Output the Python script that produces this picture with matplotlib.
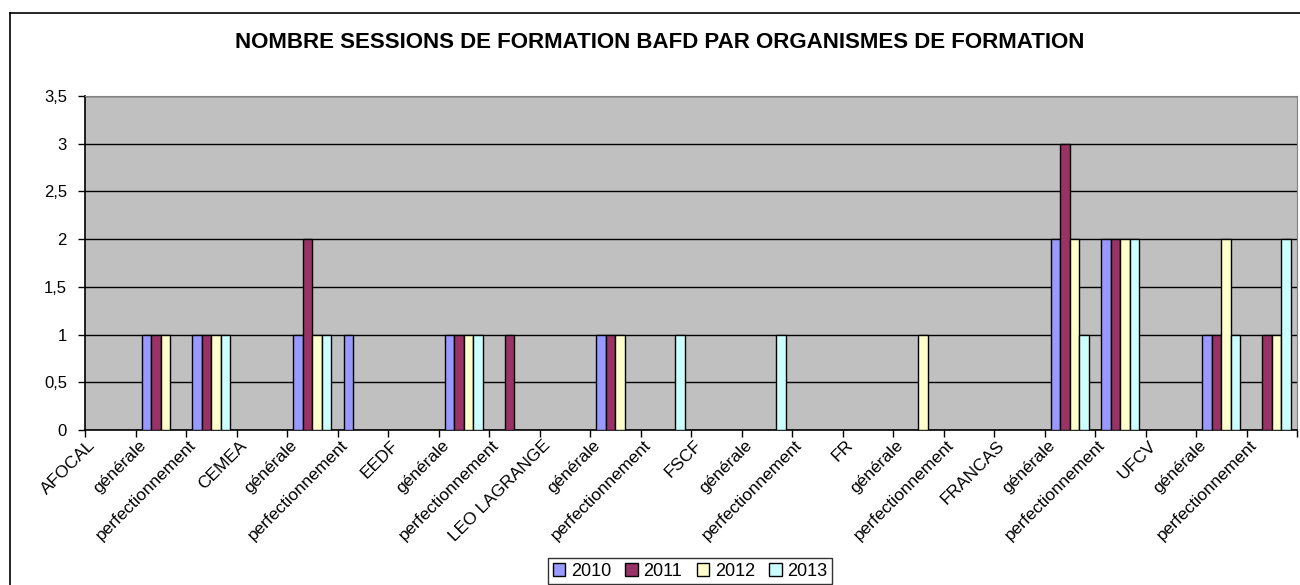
import numpy as np
import matplotlib
matplotlib.use("Agg")
import matplotlib.pyplot as plt
from matplotlib.lines import Line2D
from matplotlib.transforms import ScaledTranslation

plt.rcParams['font.family'] = ['Liberation Sans', 'DejaVu Sans']

labels = ["AFOCAL", "générale", "perfectionnement",
          "CEMEA", "générale", "perfectionnement",
          "EEDF", "générale", "perfectionnement",
          "LEO LAGRANGE", "générale", "perfectionnement",
          "FSCF", "générale", "perfectionnement",
          "FR", "générale", "perfectionnement",
          "FRANCAS", "générale", "perfectionnement",
          "UFCV", "générale", "perfectionnement"]

annees = ["2010", "2011", "2012", "2013"]
v2010 = [0, 1, 1, 0, 1, 1, 0, 1, 0, 0, 1, 0, 0, 0, 0, 0, 0, 0, 0, 2, 2, 0, 1, 0]
v2011 = [0, 1, 1, 0, 2, 0, 0, 1, 1, 0, 1, 0, 0, 0, 0, 0, 0, 0, 0, 3, 2, 0, 1, 1]
v2012 = [0, 1, 1, 0, 1, 0, 0, 1, 0, 0, 1, 0, 0, 0, 0, 0, 1, 0, 0, 2, 2, 0, 2, 1]
v2013 = [0, 0, 1, 0, 1, 0, 0, 1, 0, 0, 0, 1, 0, 1, 0, 0, 0, 0, 0, 1, 2, 0, 1, 2]
couleurs = ["#9999FF", "#993366", "#FFFFCC", "#CCFFFF"]

fig = plt.figure(figsize=(13, 5.85), dpi=100)
ax = fig.add_axes([85/1300, 1-430/585, (1297-85)/1300, (430-96)/585])
ax.set_facecolor("#C0C0C0")

n = len(labels)
w = 0.19
for k, serie in enumerate([v2010, v2011, v2012, v2013]):
    serie = np.array(serie, dtype=float)
    idx = np.nonzero(serie)[0]
    ax.bar(idx + 0.5 + (k - 1.5) * w, serie[idx], width=w, color=couleurs[k],
           edgecolor="black", linewidth=1, zorder=3)
    # entree de legende (carre)
    ax.bar([0], [0], width=0, color=couleurs[k], edgecolor="black", label=annees[k])

ax.set_xlim(0, n)
ax.set_ylim(0, 3.5)
yt = np.arange(0, 3.51, 0.5)
ax.set_yticks(yt)
ax.set_yticklabels([("%g" % v).replace(".", ",") for v in yt], fontsize=12)
ax.yaxis.grid(True, color="black", linewidth=1, zorder=1)
ax.set_axisbelow(True)

ax.set_xticks(np.arange(n + 1))
ax.set_xticklabels(labels + [""], rotation=45, ha="right", va="top",
                   rotation_mode="anchor", fontsize=12.5)
ax.tick_params(axis="x", length=5, width=1, color="black", pad=2)
ax.tick_params(axis="y", length=5, width=1, color="black", pad=8)
decal = ScaledTranslation(2/72, 1.5/72, fig.dpi_scale_trans)
for t in ax.get_xticklabels():
    t.set_transform(t.get_transform() + decal)

for s in ["top", "right"]:
    ax.spines[s].set_color("#808080")
for s in ["left", "bottom"]:
    ax.spines[s].set_color("black")
    ax.spines[s].set_linewidth(1.2)

fig.text(660/1300, 1-42/585, "NOMBRE SESSIONS DE FORMATION BAFD PAR ORGANISMES DE FORMATION",
         ha="center", va="center", fontsize=16, fontweight="bold")

leg = fig.legend(loc="upper center", bbox_to_anchor=(690/1300, 1-558/585), ncol=4,
                 fontsize=13, frameon=True, fancybox=False, edgecolor="black",
                 handlelength=0.7, handleheight=0.7, handletextpad=0.3,
                 columnspacing=0.8, borderpad=0.25, borderaxespad=0)
leg.get_frame().set_linewidth(1)

# cadre exterieur du graphique
fig.add_artist(Line2D([10/1300, 10/1300], [0, 1-13/585], color="black", linewidth=1.2))
fig.add_artist(Line2D([10/1300, 1], [1-13/585, 1-13/585], color="black", linewidth=1.2))

fig.savefig("out.png", dpi=100)
